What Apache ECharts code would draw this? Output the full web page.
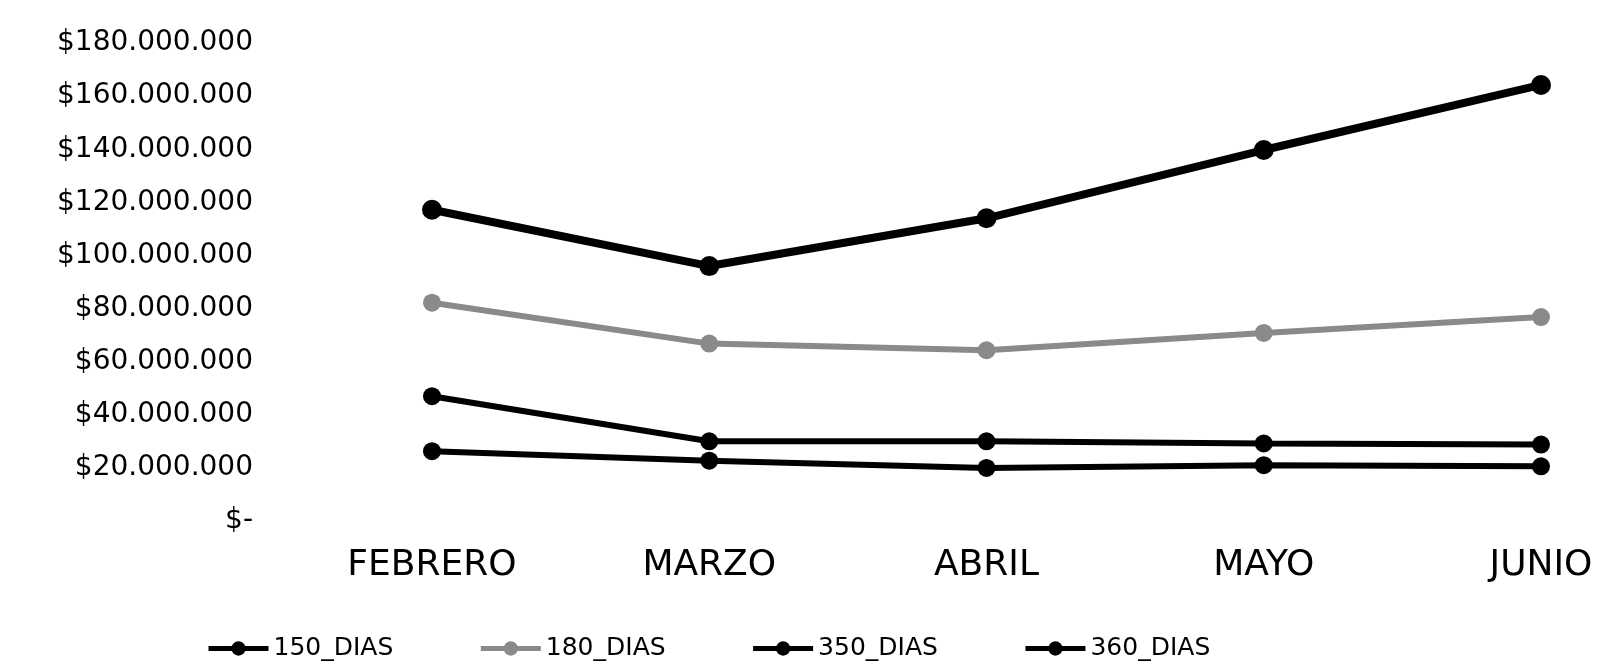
<!DOCTYPE html>
<html>
<head>
<meta charset="utf-8">
<script src="https://cdn.jsdelivr.net/npm/echarts@6/dist/echarts.min.js"></script>
<style>
  html, body { margin: 0; padding: 0; background: #fff; }
  #chart { width: 1602px; height: 667px; }
</style>
</head>
<body>
<div id="chart"></div>
<script>
// datos
const meses = ['FEBRERO', 'MARZO', 'ABRIL', 'MAYO', 'JUNIO'];
const dias150 = [47000000, 30000000, 30000000, 29200000, 28800000];
const dias180 = [82200000, 66800000, 64300000, 70800000, 76800000];
const dias350 = [26300000, 22700000, 20000000, 21000000, 20600000];
const dias360 = [117200000, 96000000, 114000000, 139700000, 164200000];
const ejeMax = 180000000;
const ejePaso = 20000000;

const fuente = 'DejaVu Sans';

const formatoPesos = (v) => {
  if (v === 0) return '$-';
  return '$' + String(v).replace(/\B(?=(\d{3})+(?!\d))/g, '.');
};

const myChart = echarts.init(document.getElementById('chart'));

const linea = (name, data, color, width, symbolSize) => ({
  name,
  type: 'line',
  data,
  symbol: 'circle',
  symbolSize,
  lineStyle: { color, width },
  itemStyle: { color },
  emphasis: { disabled: true },
});

const option = {
  animation: false,
  backgroundColor: '#fff',
  grid: { left: 432, right: 61, top: 43, bottom: 146 },
  legend: {
    left: 201,
    top: 631,
    itemWidth: 60,
    itemHeight: 18,
    itemGap: 85,
    lineStyle: { width: 5 },
    textStyle: { fontFamily: fuente, fontSize: 25, color: '#000' },
    data: ['150_DIAS', '180_DIAS', '350_DIAS', '360_DIAS'],
  },
  xAxis: {
    type: 'category',
    data: meses,
    boundaryGap: false,
    axisLine: { show: false },
    axisTick: { show: false },
    axisLabel: {
      margin: 27,
      fontFamily: fuente,
      fontSize: 36,
      lineHeight: 36,
      color: '#000',
    },
  },
  yAxis: {
    type: 'value',
    min: 0,
    max: ejeMax,
    interval: ejePaso,
    splitLine: { show: false },
    axisLine: { show: false },
    axisTick: { show: false },
    axisLabel: {
      margin: 179,
      fontFamily: fuente,
      fontSize: 28,
      color: '#000',
      formatter: formatoPesos,
    },
  },
  series: [
    linea('150_DIAS', dias150, '#000', 6, 18),
    linea('180_DIAS', dias180, '#8a8a8a', 6, 18),
    linea('350_DIAS', dias350, '#000', 6, 18),
    linea('360_DIAS', dias360, '#000', 8, 20),
  ],
};

myChart.setOption(option);
window.addEventListener('resize', () => {
  myChart.resize();
});
</script>
</body>
</html>
